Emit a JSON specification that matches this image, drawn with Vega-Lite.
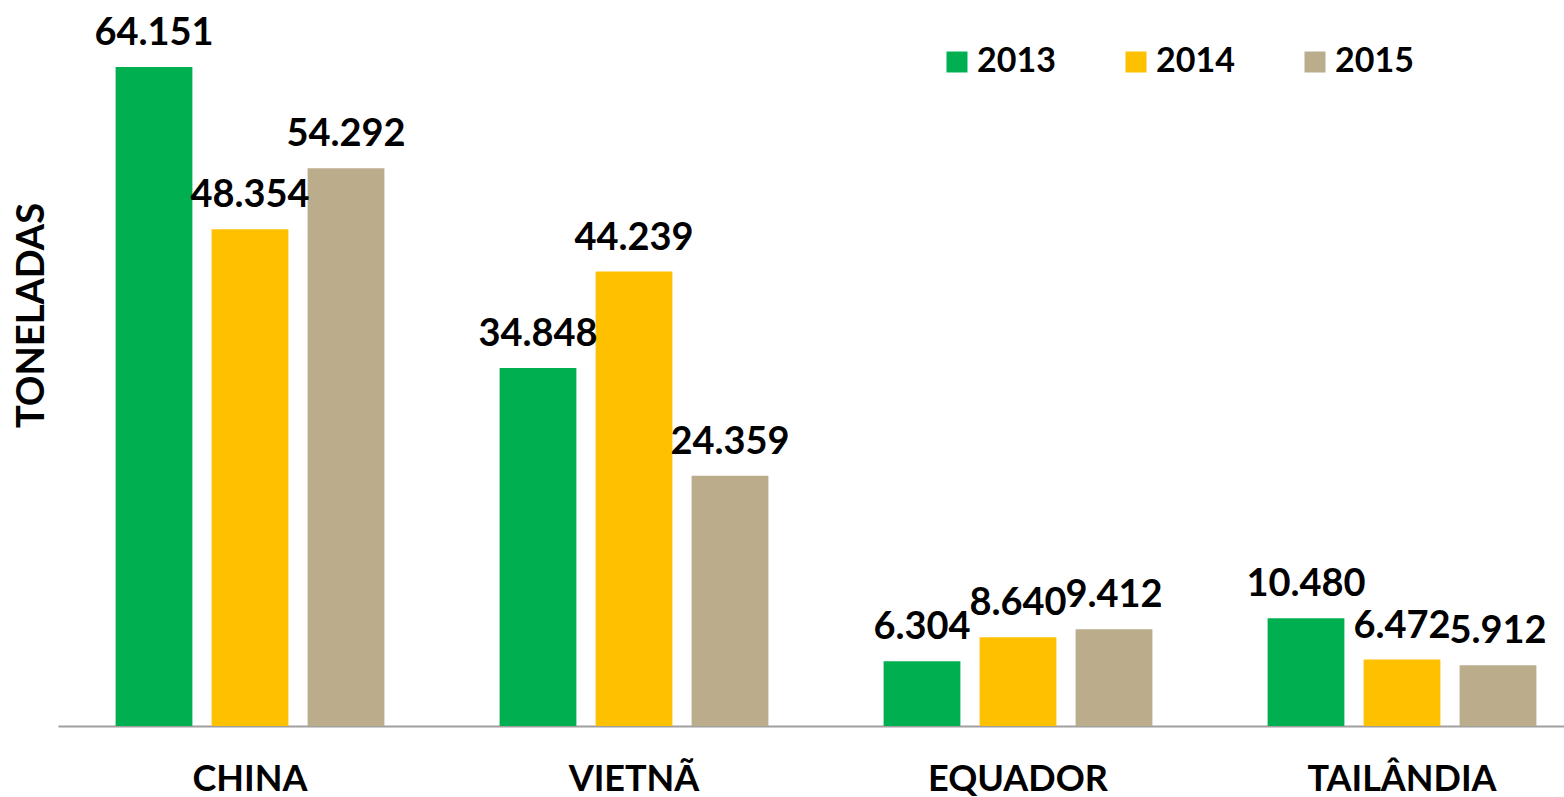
{
  "$schema": "https://vega.github.io/schema/vega-lite/v6.json",
  "width": 1536,
  "height": 719,
  "autosize": {"type": "none"},
  "padding": {"left": 58, "top": 7, "right": 0, "bottom": 71},
  "background": "white",
  "config": {
    "view": {"stroke": null},
    "font": "Lato",
    "axis": {"labelFont": "Lato", "titleFont": "Lato"},
    "legend": {"labelFont": "Lato"},
    "locale": {"number": {"decimal": ",", "thousands": ".", "grouping": [3], "currency": ["R$", ""]}}
  },
  "data": {
    "values": [
      {"country": "CHINA", "year": "2013", "value": 64151},
      {"country": "CHINA", "year": "2014", "value": 48354},
      {"country": "CHINA", "year": "2015", "value": 54292},
      {"country": "VIETNÃ", "year": "2013", "value": 34848},
      {"country": "VIETNÃ", "year": "2014", "value": 44239},
      {"country": "VIETNÃ", "year": "2015", "value": 24359},
      {"country": "EQUADOR", "year": "2013", "value": 6304},
      {"country": "EQUADOR", "year": "2014", "value": 8640},
      {"country": "EQUADOR", "year": "2015", "value": 9412},
      {"country": "TAILÂNDIA", "year": "2013", "value": 10480},
      {"country": "TAILÂNDIA", "year": "2014", "value": 6472},
      {"country": "TAILÂNDIA", "year": "2015", "value": 5912}
    ]
  },
  "encoding": {
    "x": {
      "field": "country",
      "type": "nominal",
      "sort": null,
      "scale": {"paddingInner": 0, "paddingOuter": 0},
      "axis": {
        "title": null,
        "labelAngle": 0,
        "labelFontSize": 36,
        "labelFontWeight": "bold",
        "labelColor": "black",
        "labelPadding": 36,
        "labelLimit": 0,
        "ticks": false,
        "domainColor": "#a0a0a0",
        "domainWidth": 2,
        "grid": false
      }
    },
    "xOffset": {
      "field": "year",
      "type": "nominal",
      "scale": {"paddingInner": 0.2, "paddingOuter": 0.6}
    },
    "y": {
      "field": "value",
      "type": "quantitative",
      "scale": {"domain": [0, 70000], "nice": false},
      "axis": {
        "title": "TONELADAS",
        "titleFontSize": 38,
        "titleFontWeight": "bold",
        "titleColor": "black",
        "titlePadding": 7,
        "titleY": 308,
        "labels": false,
        "ticks": false,
        "domain": false,
        "grid": false
      }
    }
  },
  "layer": [
    {
      "mark": {"type": "bar"},
      "encoding": {
        "color": {
          "field": "year",
          "type": "nominal",
          "scale": {"domain": ["2013", "2014", "2015"], "range": ["#00B050", "#FFC000", "#BBAD8C"]},
          "legend": {
            "title": null,
            "orient": "none",
            "direction": "horizontal",
            "legendX": 882,
            "legendY": 38,
            "symbolType": "square",
            "symbolSize": 441,
            "symbolStrokeWidth": 0,
            "symbolOpacity": 1,
            "labelFontSize": 34,
            "labelFontWeight": "bold",
            "labelColor": "black",
            "labelOffset": 3,
            "columnPadding": 63
          }
        }
      }
    },
    {
      "mark": {"type": "text", "baseline": "alphabetic", "dy": -22, "fontSize": 38, "fontWeight": "bold", "color": "black"},
      "encoding": {
        "text": {"field": "value", "type": "quantitative", "format": ",.0f"}
      }
    }
  ]
}
